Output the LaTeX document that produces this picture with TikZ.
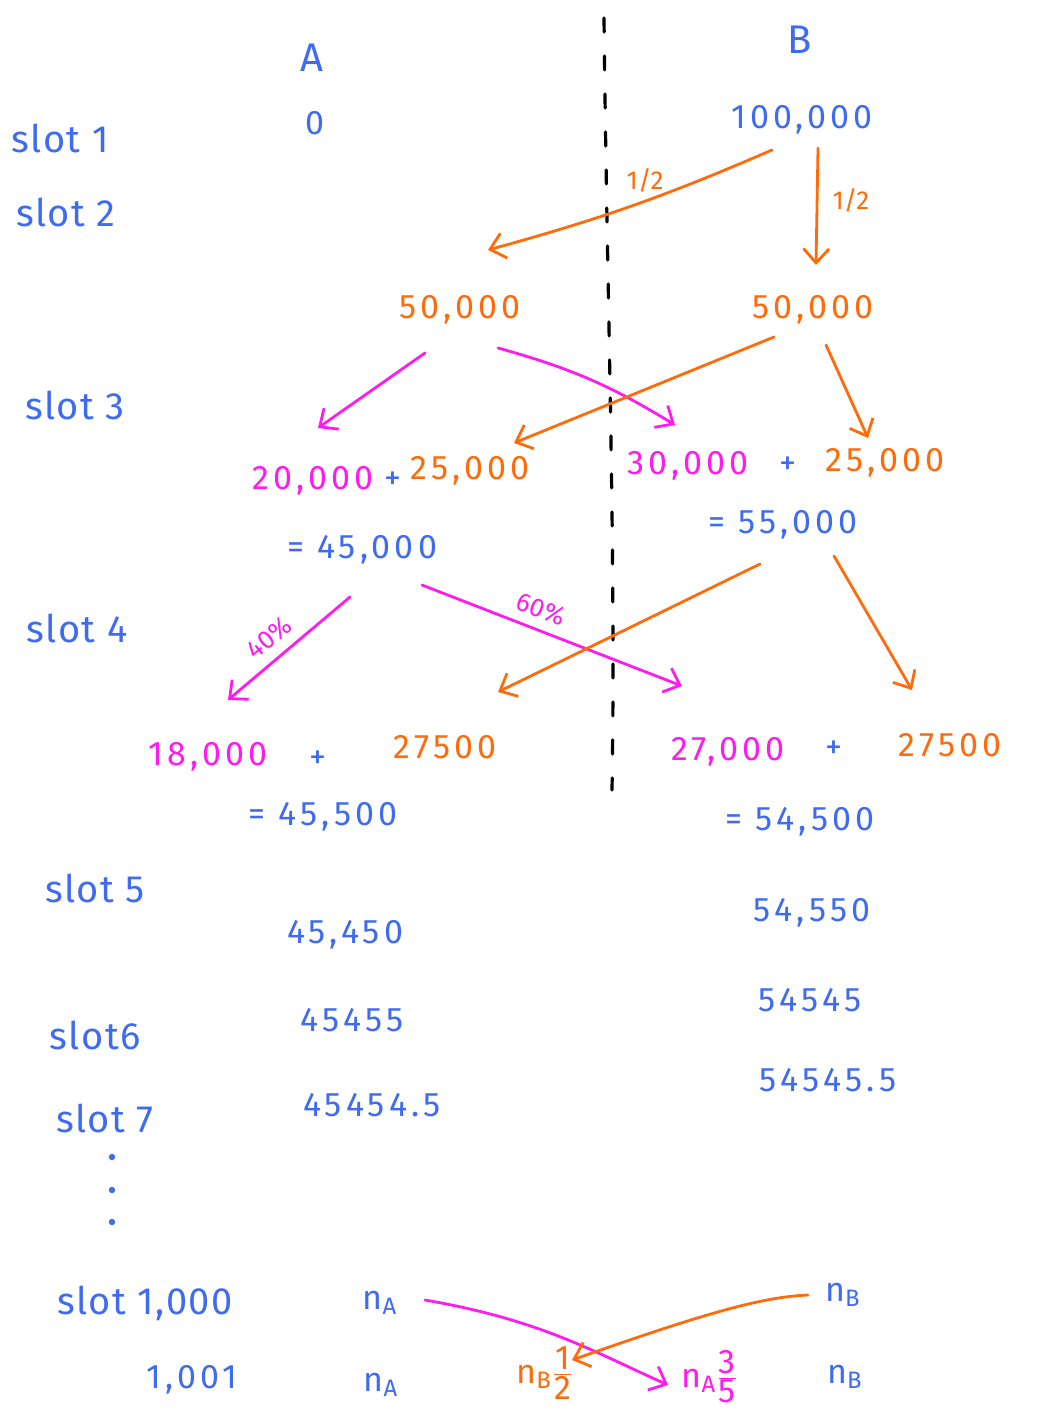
\documentclass[tikz,border=0pt]{standalone}
\usepackage{fontspec}
\setmainfont{Fira Sans}
\usetikzlibrary{arrows.meta, positioning, calc}
\definecolor{penblue}{HTML}{3F6BF0}
\definecolor{penorange}{HTML}{FF6B0A}
\definecolor{penpink}{HTML}{FF1AF0}
\tikzset{
    val/.style={text=penblue, inner sep=1pt, font=\fontsize{17}{20}\selectfont\addfontfeature{LetterSpace=12}},
    pinkval/.style={val, text=penpink},
    orangeval/.style={val, text=penorange},
    slotlbl/.style={val, font=\fontsize{19}{22}\selectfont\addfontfeature{LetterSpace=4}},
    head/.style={val, font=\fontsize{20}{24}\selectfont},
    share/.style={inner sep=1pt, font=\fontsize{13}{15}\selectfont},
    oarrow/.style={-{Straight Barb[length=2.5mm, width=4.5mm]}, draw=penorange, line width=1.4pt, line cap=round},
    parrow/.style={-{Straight Barb[length=2.5mm, width=4.5mm]}, draw=penpink, line width=1.4pt, line cap=round},
    divider/.style={dash pattern=on 7pt off 12pt, line width=1.6pt, line cap=round},
}

\begin{document}
\begin{tikzpicture}[x=0.5pt, y=-0.5pt]
    \useasboundingbox (0,0) rectangle (1037,1416);

    % Divider between A and B
    \coordinate (dtop) at (604,18);
    \coordinate (dbot) at (612,790);
    \draw[divider] (dtop) .. controls (607,300) and (616,550) .. (dbot);

    % Headings
    \node[head] (hA) at (312,58) {A};
    \node[head] (hB) at (800,40) {B};

    % Slots
    \node[slotlbl] (s1) at (60,138) {slot 1};
    \node[slotlbl] (s2) at (66,212) {slot 2};
    \node[slotlbl] (s3) at (75,405) {slot 3};
    \node[slotlbl] (s4) at (77,628) {slot 4};
    \node[slotlbl] (s5) at (95,888) {slot 5};
    \node[slotlbl] (s6) at (95,1035) {slot6};
    \node[slotlbl] (s7) at (105,1118) {slot 7};
    \foreach \y in {1157,1190,1222}
        \fill[penblue] (112,\y) circle (1.6pt);
    \node[slotlbl] (s1000) at (145,1303) {slot 1,000};
    \node[val] (s1001) at (192,1380) {1,001};

    % Slot 1 and 2
    \node[val] (a1) at (315,123) {0};
    \node[val] (b1) at (802,120) {100,000};
    \node[orangeval] (a2) at (460,310) {50,000};
    \node[orangeval] (b2) at (813,310) {50,000};

    % Slot 3
    \node[pinkval] (a3p) at (313,481) {20,000};
    \node[val] (a3plus) at (393,481) {+};
    \node[orangeval] (a3o) at (470,471) {25,000};
    \node[val] (a3) at (362,550) {= 45,000};
    \node[pinkval] (b3p) at (688,466) {30,000};
    \node[val] (b3plus) at (788,466) {+};
    \node[orangeval] (b3o) at (885,463) {25,000};
    \node[val] (b3) at (783,525) {= 55,000};

    % Slot 4
    \node[pinkval] (a4p) at (208,757) {18,000};
    \node[val] (a4plus) at (318,760) {+};
    \node[orangeval] (a4o) at (445,747) {27500};
    \node[val] (a4) at (323,817) {= 45,500};
    \node[pinkval] (b4p) at (728,752) {27,000};
    \node[val] (b4plus) at (834,750) {+};
    \node[orangeval] (b4o) at (950,745) {27500};
    \node[val] (b4) at (800,822) {= 54,500};

    % Slots 5 to 7
    \node[val] (a5) at (345,935) {45,450};
    \node[val] (b5) at (812,913) {54,550};
    \node[val] (a6) at (352,1020) {45455};
    \node[val] (b6) at (810,1000) {54545};
    \node[val] (a7) at (372,1105) {45454.5};
    \node[val] (b7) at (828,1080) {54545.5};

    % Slot 1,000 and 1,001
    \node[val] (an) at (380,1303) {n\textsubscript{A}};
    \node[val] (bn) at (843,1295) {n\textsubscript{B}};
    \node[val] (an2) at (381,1385) {n\textsubscript{A}};
    \node[val] (bn2) at (845,1377) {n\textsubscript{B}};
    \node[orangeval] (bhalf) at (545,1373) {n\textsubscript{B}$\frac{\mbox{1}}{\mbox{2}}$};
    \node[pinkval] (athree) at (710,1377) {n\textsubscript{A}$\frac{\mbox{3}}{\mbox{5}}$};

    % Arrow ends
    \coordinate (e1) at (488,250);
    \coordinate (e2) at (816,265);
    \coordinate (e3) at (318,428);
    \coordinate (e4) at (675,425);
    \coordinate (e5) at (514,443);
    \coordinate (e6) at (868,438);
    \coordinate (e7) at (228,700);
    \coordinate (e8) at (682,686);
    \coordinate (e9) at (498,692);
    \coordinate (e10) at (912,690);
    \coordinate (e11) at (668,1385);
    \coordinate (e12) at (572,1360);

    % Connections
    \draw[oarrow] ([shift={(-30,30)}]b1.center) to[bend left=4]
        node[share, text=penorange, above=3pt, pos=0.45] {1/2} (e1);
    \draw[oarrow] ([shift={(16,28)}]b1.center) to
        node[share, text=penorange, right=6pt, pos=0.45] {1/2} (e2);
    \draw[parrow] ([shift={(-35,43)}]a2.center) -- (e3);
    \draw[parrow] ([shift={(38,38)}]a2.center) to[bend left=8] (e4);
    \draw[oarrow] ([shift={(-39,27)}]b2.center) -- (e5);
    \draw[oarrow] ([shift={(13,35)}]b2.center) -- (e6);
    \draw[parrow] ([shift={(-12,47)}]a3.center) -- node[share, text=penpink, above=4pt, sloped, pos=0.55] {40\%} (e7);
    \draw[parrow] ([shift={(60,35)}]a3.center) -- node[share, text=penpink, above=4pt, sloped, pos=0.43] {60\%} (e8);
    \draw[oarrow] ([shift={(-23,39)}]b3.center) -- (e9);
    \draw[oarrow] ([shift={(51,31)}]b3.center) -- (e10);
    \draw[parrow] ([shift={(45,-3)}]an.center) .. controls (540,1320) and (590,1350) .. (e11);
    \draw[oarrow] ([shift={(-35,0)}]bn.center) .. controls (760,1297) and (700,1315) .. (e12);
\end{tikzpicture}
\end{document}
